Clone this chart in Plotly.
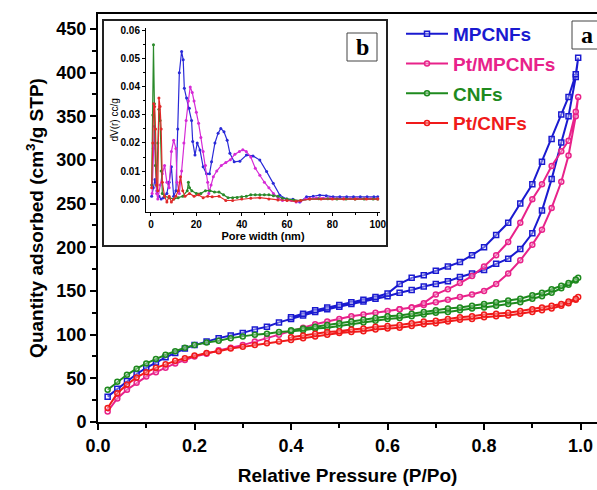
import plotly.graph_objects as go

# ---------------- N2 sorption isotherms (panel a) ----------------
P_ADS = [0.02, 0.04, 0.06, 0.08, 0.10, 0.12, 0.14, 0.16, 0.18, 0.20, 0.225, 0.25, 0.275,
         0.30, 0.325, 0.35, 0.375, 0.40, 0.425, 0.45, 0.475, 0.50, 0.525, 0.55, 0.575,
         0.60, 0.625, 0.65, 0.675, 0.70, 0.725, 0.75, 0.775, 0.80, 0.825, 0.85, 0.875,
         0.90, 0.92, 0.94, 0.96, 0.975, 0.99, 0.995]
P_DES = [0.99, 0.975, 0.96, 0.94, 0.92, 0.90, 0.875, 0.85, 0.825, 0.80, 0.775, 0.75,
         0.725, 0.70, 0.675, 0.65, 0.625, 0.60, 0.575, 0.55, 0.525, 0.50, 0.475, 0.45,
         0.425, 0.40]

mpcnf_ads = [29, 38, 47, 55, 62, 68, 74, 79, 84, 88, 92, 96, 99, 102, 106, 109, 114, 118,
             122, 126, 129, 132, 135, 138, 141, 144, 148, 151, 155, 158, 161, 166, 170, 174,
             181, 187, 198, 216, 242, 278, 320, 350, 395, 417]
mpcnf_des = [398, 372, 352, 324, 298, 272, 250, 228, 214, 200, 191, 183, 178, 173, 168,
             165, 158, 147, 143, 140, 137, 134, 131, 128, 124, 120]

ptmp_ads = [12, 27, 37, 45, 52, 57, 62, 67, 71, 75, 78, 82, 85, 88, 92, 96, 100, 104, 108,
            112, 115, 118, 121, 123, 125, 127, 129, 131, 134, 137, 140, 143, 146, 150, 158,
            170, 185, 203, 220, 245, 275, 305, 350, 372]
ptmp_des = [355, 322, 310, 293, 272, 255, 228, 206, 191, 178, 167, 159, 152, 146, 136,
            131, 129]

cnf_ads = [37, 46, 54, 61, 67, 72, 77, 81, 85, 88, 91, 93, 96, 98, 100, 101, 103, 104,
           105, 107, 108, 110, 112, 114, 116, 118, 119, 121, 123, 125, 126, 128, 130, 131,
           133, 135, 137, 141, 144, 148, 153, 157, 162, 165]
cnf_des = [163, 159, 156, 152, 148, 145, 141, 139, 137, 135, 133, 131, 130, 128, 126, 124,
           122, 121, 119, 117, 115, 113, 111, 109, 107, 105]

ptcnf_ads = [16, 33, 43, 51, 57, 62, 66, 70, 73, 76, 79, 81, 84, 86, 88, 90, 92, 94, 96, 98,
             100, 102, 103, 104, 106, 107, 108, 110, 112, 113, 115, 117, 118, 120, 121, 122,
             124, 126, 128, 130, 133, 136, 140, 143]
ptcnf_des = [141, 138, 135, 133, 131, 129, 127, 125, 124, 123, 121, 120, 118, 116, 115, 113,
             111, 110, 109, 107, 106, 104, 103, 101, 99, 97]

# ---------------- pore size distributions (panel b) ----------------
w_mpcnf = [0.3, 1.0, 1.8, 2.6, 3.5, 4.5, 5.5, 7.0, 8.0, 9.0, 10.0, 11.0, 11.8, 12.5, 13.5,
           14.2, 14.7, 15.7, 16.9, 17.9, 18.4, 19.4, 20.4, 21.6, 23.0, 24.5, 25.8, 26.7,
           28.2, 29.6, 30.8, 32.2, 33.6, 34.8, 36.7, 39.2, 42.1, 45.0, 48.0, 51.0, 53.9,
           56.8, 59.8, 62.6, 65.6, 68.6, 71.5, 74.4, 77.3, 80.3, 83.3, 86.3, 89.3, 92.3,
           95.3, 98.3, 100.0]
dv_mpcnf = [0.001, 0.004, 0.007, 0.003, 0.001, 0.0, 0.0005, 0.002, 0.006, 0.0115, 0.001,
            0.003, 0.025, 0.045, 0.0526, 0.0497, 0.0395, 0.036, 0.0324, 0.028, 0.0205,
            0.0157, 0.020, 0.0175, 0.0115, 0.009, 0.009, 0.0133, 0.020, 0.0235, 0.0252,
            0.024, 0.021, 0.0163, 0.0133, 0.0135, 0.0157, 0.0154, 0.0139, 0.0098, 0.0056,
            0.0014, 0.0, -0.0001, -0.001, 0.0008, 0.0010, 0.0014, 0.0012, 0.0008, 0.0008,
            0.0008, 0.0008, 0.0008, 0.0008, 0.0008, 0.0008]

w_ptmp = [0.5, 1.0, 1.5, 2.0, 2.5, 3.0, 4.0, 5.0, 6.0, 7.0, 8.0, 9.0, 10.0, 11.0, 11.5,
          12.5, 13.5, 14.5, 15.5, 16.5, 17.3, 18.2, 19.0, 20.0, 21.0, 22.0, 23.0, 24.0,
          25.0, 25.5, 26.5, 27.5, 29.0, 31.0, 33.0, 35.0, 37.0, 39.0, 40.5, 42.0, 44.0,
          46.0, 48.0, 50.0, 52.0, 54.0, 56.0, 58.0, 60.0, 62.0, 64.0, 66.0, 68.0, 70.0,
          73.0, 76.0, 79.0, 82.0, 85.0, 88.0, 91.0, 94.0, 97.0, 100.0]
dv_ptmp = [0.002, 0.018, 0.026, 0.012, 0.002, 0.0, 0.005, 0.009, 0.012, 0.006, 0.004,
           0.017, 0.021, 0.018, 0.006, 0.002, 0.010, 0.020, 0.028, 0.035, 0.040, 0.038,
           0.035, 0.031, 0.027, 0.022, 0.017, 0.012, 0.006, 0.002, 0.005, 0.008, 0.010,
           0.012, 0.013, 0.014, 0.016, 0.017, 0.0176, 0.017, 0.015, 0.011, 0.0085, 0.006,
           0.004, 0.002, 0.0005, -0.0005, -0.0003, -0.0005, -0.001, -0.0008, 0.0, 0.0003,
           0.0004, 0.0003, 0.0003, 0.0002, 0.0002, 0.0002, 0.0002, 0.0002, 0.0002, 0.0002]

w_cnf = [0.3, 0.8, 1.1, 1.5, 2.0, 2.5, 3.0, 3.5, 4.0, 4.5, 5.0, 6.0, 8.0, 10.0, 12.0, 14.0,
         16.0, 16.5, 17.0, 18.0, 20.0, 22.0, 24.0, 26.0, 28.0, 30.0, 32.0, 34.0, 36.0,
         38.0, 40.0, 42.0, 44.0, 46.0, 48.0, 50.0, 52.0, 54.0, 56.0, 58.0, 60.0, 63.0,
         66.0, 70.0, 74.0, 78.0, 82.0, 86.0, 90.0, 94.0, 98.0, 100.0]
dv_cnf = [0.005, 0.030, 0.055, 0.034, 0.012, 0.005, 0.020, 0.032, 0.028, 0.010, 0.002,
          0.001, 0.0005, 0.0, 0.0005, 0.001, 0.003, 0.006, 0.004, 0.003, 0.002, 0.002,
          0.003, 0.003, 0.0025, 0.0025, 0.0015, 0.0005, 0.0005, 0.0006, 0.0008, 0.001,
          0.0015, 0.0015, 0.0015, 0.0015, 0.0015, 0.0012, 0.001, 0.0003, 0.0, -0.0003,
          -0.0005, 0.0, 0.0001, 0.0001, 0.0, 0.0, 0.0, 0.0, 0.0, 0.0]

w_ptcnf = [0.3, 0.8, 1.2, 1.6, 2.0, 2.5, 3.0, 3.5, 4.0, 4.5, 5.0, 6.0, 7.0, 8.0, 9.0,
           10.0, 11.0, 12.0, 13.0, 14.0, 15.0, 17.0, 19.0, 21.0, 23.0, 25.0, 27.0, 30.0,
           33.0, 36.0, 40.0, 44.0, 48.0, 52.0, 56.0, 60.0, 64.0, 66.0, 70.0, 75.0, 80.0,
           85.0, 90.0, 95.0, 100.0]
dv_ptcnf = [0.004, 0.020, 0.034, 0.033, 0.025, 0.005, 0.003, 0.036, 0.033, 0.025, 0.006,
            0.001, -0.001, 0.001, -0.001, 0.0, 0.001, 0.003, 0.008, 0.003, 0.001, 0.002,
            0.001, 0.0015, 0.0005, 0.001, 0.0008, 0.001, -0.0005, -0.0005, 0.0, 0.0003,
            0.0005, 0.0, -0.0003, -0.0005, -0.0008, -0.0005, 0.0, 0.0, 0.0, 0.0, 0.0,
            0.0, 0.0]

NAMES = ["MPCNFs", "Pt/MPCNFs", "CNFs", "Pt/CNFs"]
COLORS = ["#1a1ad0", "#e8228a", "#1e8a1e", "#f01a1a"]
INSET_COLORS = ["#2a2ad8", "#d62ad6", "#2a8a2a", "#e02a2a"]
SYMBOLS = ["square", "circle", "circle", "circle"]

isotherms = [(mpcnf_ads, mpcnf_des), (ptmp_ads, ptmp_des),
             (cnf_ads, cnf_des), (ptcnf_ads, ptcnf_des)]
psd = [(w_mpcnf, dv_mpcnf), (w_ptmp, dv_ptmp), (w_cnf, dv_cnf), (w_ptcnf, dv_ptcnf)]

FONT = "Liberation Sans, Arial, sans-serif"
SERIF = "Liberation Serif, Times New Roman, serif"

fig = go.Figure()

for name, color, sym, (ads, des) in zip(NAMES, COLORS, SYMBOLS, isotherms):
    p_des = P_DES[:len(des)]
    xs = P_ADS + p_des
    ys = ads + des
    fig.add_trace(go.Scatter(
        x=xs, y=ys, mode="lines+markers",
        name=f"<span style='color:{color}'>{name}</span>",
        legendgroup=name,
        line=dict(color=color, width=2),
        marker=dict(symbol=sym, size=5, color="rgba(255,255,255,0.35)",
                    line=dict(color=color, width=1.5)),
        xaxis="x", yaxis="y",
    ))

for color, (w, dv) in zip(INSET_COLORS, psd):
    fig.add_trace(go.Scatter(
        x=w, y=dv, mode="lines+markers", showlegend=False,
        line=dict(color=color, width=1.2),
        marker=dict(size=3, color=color),
        xaxis="x2", yaxis="y2",
    ))

# plot area spans pixels 98..597 horizontally and 14..422 vertically
W, H = 597, 490
L, R, T, B = 98, 0, 14, 68
pw, ph = W - L - R, H - T - B


def px(xp):
    return (xp - L) / pw


def py(yp):
    return (H - B - yp) / ph


axis_common = dict(showline=True, linecolor="black", ticks="outside", color="black",
                   showgrid=False, zeroline=False, automargin=False)

fig.update_layout(
    width=W, height=H,
    margin=dict(l=L, r=R, t=T, b=B, pad=0, autoexpand=False),
    paper_bgcolor="white", plot_bgcolor="white",
    font=dict(family=FONT, color="black"),
    xaxis=dict(
        **axis_common, range=[0, 1.034], domain=[0, 1], mirror=True, linewidth=2,
        tickvals=[0.0, 0.2, 0.4, 0.6, 0.8, 1.0], tickformat=".1f", ticklen=6, tickwidth=2,
        minor=dict(dtick=0.1, tick0=0, ticklen=4, tickwidth=1.5, ticks="outside"),
        tickfont=dict(size=18, weight="bold"),
        title=dict(text="Relative Pressure (P/Po)", font=dict(size=19, weight="bold"),
                   standoff=14),
    ),
    yaxis=dict(
        **axis_common, range=[0, 467], domain=[0, 1], linewidth=2,
        tickvals=list(range(0, 451, 50)), ticklen=6, tickwidth=2,
        minor=dict(dtick=25, tick0=0, ticklen=4, tickwidth=1.5, ticks="outside"),
        tickfont=dict(size=18, weight="bold"),
        title=dict(text="Quantity adsorbed (cm<sup>3</sup>/g STP)",
                   font=dict(size=19, weight="bold"), standoff=8),
    ),
    xaxis2=dict(
        **axis_common, anchor="y2", linewidth=1,
        domain=[px(146), px(380)], range=[-2.2, 101],
        tickvals=[0, 20, 40, 60, 80, 100], ticklen=3, tickwidth=1,
        minor=dict(dtick=10, tick0=0, ticklen=2, ticks="outside"),
        tickfont=dict(size=10, weight="bold"),
        title=dict(text="Pore width (nm)", font=dict(size=11, weight="bold"), standoff=2),
    ),
    yaxis2=dict(
        **axis_common, anchor="x2", linewidth=1,
        domain=[py(211.7), py(28)], range=[-0.0045, 0.061],
        tickvals=[0.0, 0.01, 0.02, 0.03, 0.04, 0.05, 0.06], tickformat=".2f",
        ticklen=3, tickwidth=1,
        minor=dict(dtick=0.005, tick0=0, ticklen=2, ticks="outside"),
        tickfont=dict(size=10, weight="bold"),
        title=dict(text="dV(r) cc/g", font=dict(size=10), standoff=0),
    ),
    legend=dict(
        x=px(401), y=py(15), xanchor="left", yanchor="top",
        bgcolor="rgba(0,0,0,0)", borderwidth=0,
        font=dict(size=19, family=FONT, weight="bold"),
        itemwidth=42, traceorder="grouped", tracegroupgap=2,
    ),
    showlegend=True,
)

# inset frame and panel labels
fig.add_shape(type="rect", xref="paper", yref="paper",
              x0=px(103), x1=px(387), y0=py(246), y1=py(20),
              line=dict(color="#222", width=2), fillcolor="white", layer="below")
fig.add_shape(type="rect", xref="paper", yref="paper",
              x0=px(347), x1=px(377), y0=py(61), y1=py(33),
              line=dict(color="#444", width=1), fillcolor="white")
fig.add_annotation(text="b", xref="paper", yref="paper", x=px(362), y=py(47),
                   xanchor="center", yanchor="middle", showarrow=False,
                   font=dict(family=SERIF, size=24, weight="bold"))
fig.add_shape(type="rect", xref="paper", yref="paper",
              x0=px(572), x1=px(602), y0=py(49), y1=py(21),
              line=dict(color="#444", width=1), fillcolor="white")
fig.add_annotation(text="a", xref="paper", yref="paper", x=px(587), y=py(35),
                   xanchor="center", yanchor="middle", showarrow=False,
                   font=dict(family=SERIF, size=24, weight="bold"))

fig.write_html("out.html")
